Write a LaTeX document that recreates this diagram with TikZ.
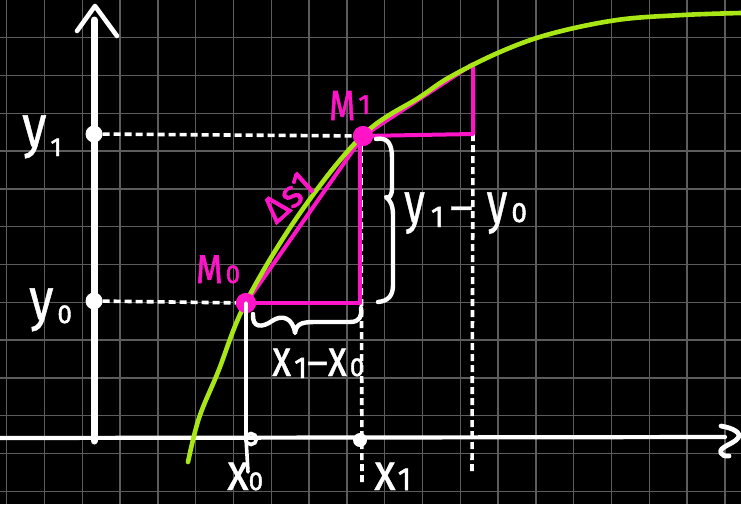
\documentclass[tikz,border=0pt]{standalone}
\usepackage{fontspec}
\setmainfont{Fira Sans}
\newfontfamily\subfont[FakeBold=1.6]{Fira Sans}
\newfontfamily\bigfont[FakeBold=0.9]{Fira Sans}
\definecolor{gridc}{RGB}{92,92,92}
\definecolor{curveg}{RGB}{168,230,22}
\definecolor{mag}{RGB}{255,20,200}
\newcommand\fs[1]{\bigfont\fontsize{#1}{#1}\selectfont}
\newcommand\sfs[1]{\subfont\fontsize{#1}{#1}\selectfont}
\newcommand\sq[2]{\scalebox{#1}[1]{#2}}
\begin{document}
\begin{tikzpicture}[x=1pt,y=-1pt,
  gridline/.style={draw=gridc,line width=1.4pt},
  axisline/.style={draw=white,line cap=round,line join=round},
  dashline/.style={draw=white,line width=3.6pt,dash pattern=on 7pt off 4pt},
  magline/.style={draw=mag,line width=4pt,line join=round},
  braceline/.style={draw=white,line width=4.4pt,line cap=round,line join=round},
  lab/.style={text=white,inner sep=0pt,anchor=base west},
  maglab/.style={text=mag,inner sep=0pt,anchor=base west},
  wdot/.style={circle,fill=white,inner sep=0pt,minimum size=17pt},
  mdot/.style={circle,fill=mag,inner sep=0pt,minimum size=20pt},
]
\fill[black] (0,0) rectangle (741,504);
\useasboundingbox (0,0) rectangle (741,504);
\foreach \i in {0,...,19} \draw[gridline] ({6.7+37.8*\i},0) -- ({6.7+37.8*\i},504);
\foreach \j in {1,...,13} \draw[gridline] (0,{-0.1+37.8*\j}) -- (741,{-0.1+37.8*\j});

% coordinates
\coordinate (ytop) at (94,20);
\coordinate (ybot) at (94,441);
\coordinate (xleft) at (0,438);
\coordinate (xright) at (725,437);
\coordinate (C0) at (360,303);
\coordinate (C0top) at (360,140);
\coordinate (C1) at (473,134);
\coordinate (T1) at (473,64);
\coordinate (D1a) at (361,145);
\coordinate (D1b) at (362,482);
\coordinate (D2a) at (473,134);
\coordinate (D2b) at (472,473);
\coordinate (V0a) at (246,438);
\coordinate (V0b) at (248,472);

% axes
\draw[axisline,line width=7pt] (ybot) -- (ytop);
\draw[axisline,line width=4.6pt] (77,31) -- (95,6) -- (117,36);
\draw[axisline,line width=4.2pt] (xleft) -- (xright);
\draw[axisline,line width=4.8pt] (721,426) .. controls (733,428) and (742,433) .. (738,438) .. controls (734,444) and (718,447) .. (721,453) .. controls (722,456) and (725,456) .. (729,456);

% points
\node[wdot] (Y1) at (94,134) {};
\node[wdot] (Y0) at (94,301) {};
\node[mdot] (M0) at (246,303) {};
\node[mdot] (M1) at (363,136) {};

% dashed guides
\draw[dashline] (Y1) -- (M1);
\draw[dashline] (Y0) -- (M0);
\draw[dashline] (D1a) -- (D1b);
\draw[dashline] (D2a) -- (D2b);

% magenta triangles
\draw[magline] (M0.center) -- (C0) -- (C0top);
\draw[magline] (M0.center) -- (M1.center);
\draw[magline] (M1.center) -- (C1) -- (T1) -- cycle;

% curve
\draw[curveg,line width=4.6pt,line cap=round] plot[smooth,tension=0.6] coordinates {(188,462) (199,418) (218,372) (246,302) (300,213) (363,135) (420,97) (450,77) (500,52) (550,34) (617,20) (683,15) (741,13)};

% redraw dots on top
\node[mdot] at (M0) {};
\node[mdot] at (M1) {};

% x0 drop line and axis marks
\draw[white,line width=3.6pt,line cap=round] (M0.center) -- (V0a) -- (V0b);
\draw[white,line width=3.6pt] (251,439) circle (5.5);
\node[circle,fill=white,inner sep=0pt,minimum size=14pt] (X1) at (360,440) {};

% braces
\draw[braceline] (376,139) .. controls (388,137) and (392,144) .. (392,158) -- (392,188) .. controls (392,196) and (389,199) .. (386,197) .. controls (390,200) and (393,205) .. (393,215) -- (393,285) .. controls (393,296) and (388,301) .. (378,302);
\draw[braceline] (253,314) .. controls (252,328) and (262,328) .. (272,321) .. controls (282,314) and (293,318) .. (295,333) .. controls (296,322) and (305,322) .. (318,322) -- (350,322) .. controls (360,322) and (362,316) .. (361,308);

% labels
\node[lab] (ly1) at (22,146) {\fs{58}\sq{0.85}{y}\hspace{4pt}\raisebox{-10pt}{\sfs{26}1}};
\node[lab] (ly0) at (29,319) {\fs{58}\sq{0.85}{y}\hspace{4pt}\raisebox{-4pt}{\sfs{26}0}};
\node[maglab] (lM1) at (329,120) {\sfs{42}\sq{0.8}{M}\hspace{3pt}\raisebox{6pt}{\sfs{28}1}};
\node[maglab] (lM0) at (196,283) {\sfs{40}\sq{0.85}{M}\hspace{3pt}{\sfs{26}0}};
\node[text=mag,inner sep=0pt,rotate=42] (lds) at (288,197) {\sfs{38}Δs1};
\node[lab] (ldy) at (404,222) {\fs{56}\sq{0.75}{y}\hspace{6pt}\raisebox{-5pt}{\sfs{30}1}\hspace{6pt}{\fs{44}–}\hspace{14pt}\fs{56}\sq{0.75}{y}\hspace{4pt}{\sfs{28}0}};
\node[lab] (ldx) at (272,376) {\fs{52}\sq{0.75}{x}\hspace{3pt}\raisebox{-2pt}{\sfs{30}1}{\fs{40}–}\fs{52}\sq{0.75}{x}\hspace{3pt}{\sfs{26}0}};
\node[lab] (lx0) at (227,490) {\fs{52}\sq{0.85}{x}{\sfs{26}0}};
\node[lab] (lx1) at (374,490) {\fs{52}\sq{0.85}{x}\hspace{2pt}{\sfs{32}1}};
\end{tikzpicture}
\end{document}
